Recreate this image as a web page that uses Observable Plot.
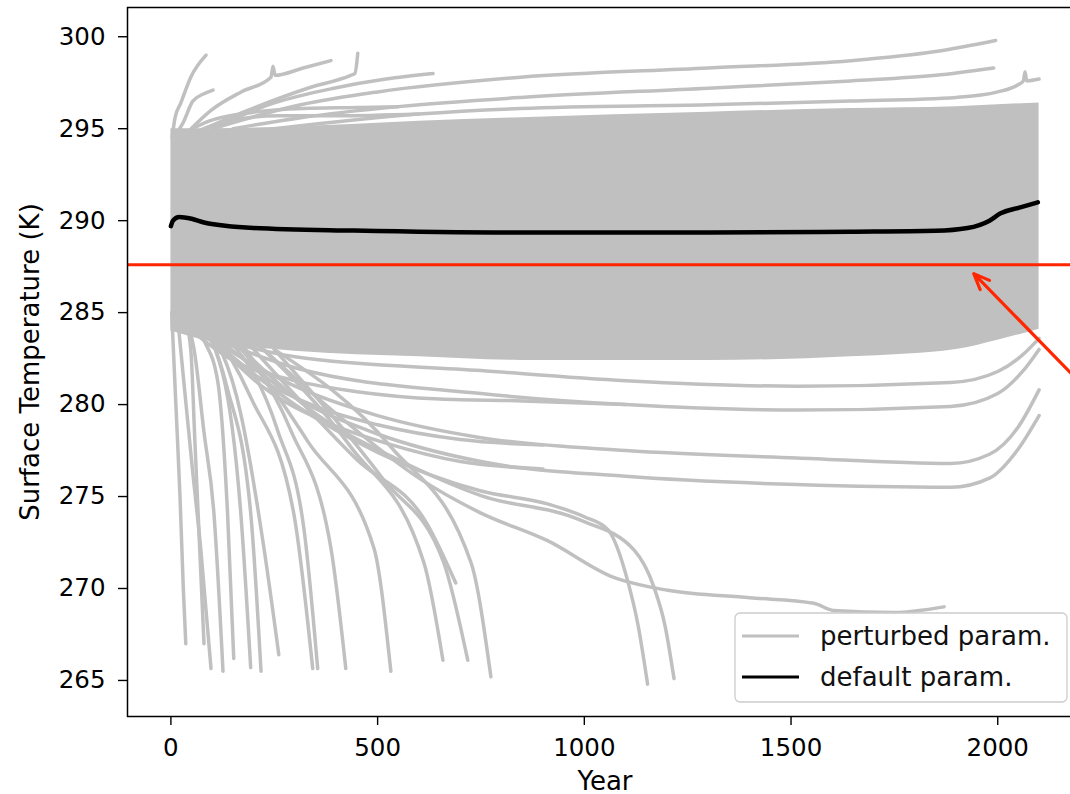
<!DOCTYPE html>
<html><head><meta charset="utf-8">
<script src="https://cdn.jsdelivr.net/npm/d3@7"></script>
<script src="https://cdn.jsdelivr.net/npm/@observablehq/plot@0.6"></script>
<style>
html,body{margin:0;padding:0;overflow:hidden;background:#fff;}
#wrap{position:relative;width:1102px;height:794px;}
#legend{position:absolute;left:734px;top:612px;font-family:'DejaVu Sans',sans-serif;}
</style></head><body><div id="wrap"></div>
<script>
// ---- ticks ----
const xTicks = [0, 500, 1000, 1500, 2000];
const yTicks = [265, 270, 275, 280, 285, 290, 295, 300];

// ---- dense core of perturbed runs (envelope) ----
const bandYear = [0, 100, 300, 600, 846, 1300, 1644, 1900, 2000, 2100];
const bandHigh = [295.0, 295.0, 295.1, 295.4, 295.6, 295.9, 296.1, 296.2, 296.3, 296.4];
const bandLow  = [284.0, 283.4, 282.9, 282.6, 282.4, 282.4, 282.6, 283.0, 283.5, 284.1];

// ---- individual perturbed runs: [year, K] ----
const runA = [[3,294.5],[10,295.6],[24,296.4],[48,297.8],[85,299.0]];
const runB = [[15,294.8],[29,295.3],[53,296.5],[80,296.9],[102,297.1]];
const runC = [[40,294.8],[97,296.0],[170,297.0],[242,297.8],[247,298.4],[252,297.9],[320,298.3],[387,298.7]];
const runD = [[60,294.8],[186,296.0],[331,297.2],[435,297.9],[445,298.0],[452,299.1]];
const runE = [[100,295.0],[250,296.4],[394,297.2],[520,297.7],[634,298.0]];
const runF = [[100,295.0],[314,296.3],[500,297.0],[846,297.8],[1300,298.3],[1644,298.7],[1850,299.2],[1995,299.8]];
const runG = [[150,295.0],[314,295.6],[550,296.2],[846,296.7],[1300,297.2],[1644,297.6],[1850,297.9],[1990,298.3]];
const runH = [[250,295.0],[600,295.8],[846,296.1],[1300,296.3],[1644,296.5],[1900,296.7],[2000,297.0],[2050,297.4],[2062,297.6],[2066,298.1],[2070,297.6],[2100,297.7]];
const runT1 = [[20,294.6],[90,295.4],[200,295.9],[320,296.1],[450,296.15],[550,296.2]];
const runT2 = [[30,294.4],[80,295.0],[160,295.5],[260,295.7],[400,295.7],[600,295.8]];

const runL1 = [[50,284.0],[300,282.6],[750,281.85],[1100,281.3],[1514,281.0],[1886,281.2],[2000,281.8],[2060,282.7],[2100,283.6]];
const runL2 = [[80,283.8],[300,282.0],[750,280.6],[1100,280.0],[1514,279.7],[1886,279.9],[2000,280.6],[2060,281.8],[2100,283.0]];
const runL3 = [[100,283.5],[300,281.0],[500,279.4],[750,278.2],[1100,277.5],[1514,277.1],[1886,276.8],[1980,277.3],[2050,278.8],[2100,280.8]];
const runL4 = [[120,283.5],[300,280.4],[500,278.4],[750,276.9],[1100,276.1],[1514,275.65],[1886,275.5],[1980,276.0],[2050,277.6],[2100,279.4]];
const runN1 = [[40,284.2],[150,282.4],[300,281.3],[450,280.7],[650,280.3],[850,280.2],[1100,280.0]];
const runN2 = [[70,284.0],[200,281.6],[350,279.9],[500,278.9],[700,278.1],[900,277.8]];
const runN3 = [[90,283.8],[220,281.0],[380,279.0],[520,277.9],[700,276.9],[900,276.5]];

const runM1 = [[100,283.5],[300,280.0],[500,277.4],[750,275.3],[911,274.6],[1000,273.9],[1057,273.2],[1105,270.4],[1130,268.0],[1153,264.8]];
const runM2 = [[150,283.5],[350,279.5],[550,277.0],[750,275.05],[992,273.7],[1120,272.1],[1168,270.1],[1195,268.0],[1217,265.1]];
const runM3 = [[200,283.5],[400,279.5],[600,276.0],[750,274.1],[911,272.6],[1071,270.6],[1202,269.9],[1400,269.5],[1555,269.2],[1603,268.8],[1750,268.7],[1870,269.0]];

const runF1  = [[2,285],[12,280],[22,275],[30,270],[36,267.0]];
const runF2  = [[30,285],[48,283],[58,278],[68,273],[80,267.0]];
const runF3  = [[15,285],[31,281.3],[52,276.5],[72,272.2],[97,265.65]];
const runF4  = [[25,285],[56,283],[80,278.5],[104,274.1],[126,265.5]];
const runF5  = [[40,285],[80,283.5],[113,281.3],[137,274.1],[152,266.2]];
const runF6  = [[50,285],[125,281.7],[169,274.1],[193,265.7]];
const runF7  = [[60,285],[135,281],[193,274.1],[218,265.5]];
const runF8  = [[80,284.5],[169,279.5],[225,272.2],[261,266.4]];
const runF9  = [[90,284.5],[193,280.4],[297,274.1],[343,265.65]];
const runF10 = [[120,284],[258,278.6],[322,273.2],[355,265.65]];
const runF11 = [[130,284],[290,278.6],[387,272.2],[423,265.65]];
const runF12 = [[150,284],[331,278.0],[491,272.2],[532,265.5]];
const runF13 = [[200,283.5],[435,277.7],[612,271.4],[658,266.1]];
const runF14 = [[250,283],[515,275.9],[660,271.4],[718,266.1]];
const runF15 = [[250,283],[532,277.7],[726,271.4],[774,265.2]];
const runF16 = [[200,283],[450,277],[620,273.5],[689,270.3]];

const perturbedRuns = [runA, runB, runC, runD, runE, runF, runG, runH, runT1, runT2,
  runL1, runL2, runL3, runL4, runN1, runN2, runN3, runM1, runM2, runM3,
  runF1, runF2, runF3, runF4, runF5, runF6, runF7, runF8, runF9, runF10,
  runF11, runF12, runF13, runF14, runF15, runF16];

// ---- default-parameter run ----
const defaultYear = [0, 5, 20, 50, 80, 200, 443, 846, 1300, 1644, 1850, 1927, 1980, 2007, 2050, 2097];
const defaultTemp = [289.7, 290.0, 290.2, 290.1, 289.9, 289.6, 289.46, 289.35, 289.35, 289.4, 289.45, 289.6, 290.0, 290.4, 290.7, 291.0];

// ---- reference line & annotation arrow ----
const observedTemp = 287.6;
const arrowTail = [2249, 280.05];
const arrowHead = [1942, 287.12];

const legendLabels = ["perturbed param.", "default param."];
const axisLabels = {x: "Year", y: "Surface Temperature (K)"};

// ---- build tables ----
const bandRows = bandYear.map((yr, i) => ({year: yr, lo: bandLow[i], hi: bandHigh[i]}));
const runRows = perturbedRuns.flatMap((run, i) => run.map(([year, temp]) => ({run: i, year, temp})));
const defaultRows = defaultYear.map((yr, i) => ({year: yr, temp: defaultTemp[i]}));
const arrowRows = [{x1: arrowTail[0], y1: arrowTail[1], x2: arrowHead[0], y2: arrowHead[1]}];

const red = "#ff2600";
const chart = Plot.plot({
  width: 1102, height: 794,
  marginLeft: 127, marginRight: 20, marginTop: 7, marginBottom: 78,
  x: {domain: [-105, 2205]},
  y: {domain: [263.04, 301.59]},
  style: {fontFamily: "'DejaVu Sans', sans-serif", fontSize: "24.5px", color: "black", background: "white", overflow: "visible"},
  marks: [
    Plot.areaY(bandRows, {x: "year", y1: "lo", y2: "hi", fill: "silver", curve: "monotone-x"}),
    Plot.line(runRows, {x: "year", y: "temp", z: "run", stroke: "silver", strokeWidth: 3.5, curve: "monotone-x"}),
    Plot.line(defaultRows, {x: "year", y: "temp", stroke: "black", strokeWidth: 4.5, curve: "monotone-x"}),
    Plot.ruleY([observedTemp], {stroke: red, strokeWidth: 3}),
    Plot.arrow(arrowRows, {x1: "x1", y1: "y1", x2: "x2", y2: "y2", stroke: red, strokeWidth: 3.2, headLength: 8, headAngle: 45}),
    Plot.frame({stroke: "black", strokeWidth: 1.5}),
    Plot.axisX(xTicks, {tickSize: 9, tickPadding: 13, tickFormat: "d", label: null, strokeWidth: 1.4}),
    Plot.axisY(yTicks, {tickSize: 9, tickPadding: 13, tickFormat: "d", label: null, strokeWidth: 1.4}),
    Plot.text([axisLabels.x], {text: d => d, frameAnchor: "bottom", dy: 73, fontSize: 26, fill: "black"}),
    Plot.text([axisLabels.y], {text: d => d, frameAnchor: "left", textAnchor: "middle", dx: -97, rotate: -90, fontSize: 26, fill: "black"})
  ]
});
const wrap = document.getElementById("wrap");
wrap.appendChild(chart);

// ---- legend ----
const ns = "http://www.w3.org/2000/svg";
const leg = document.createElementNS(ns, "svg");
leg.setAttribute("id", "legend");
leg.setAttribute("width", "336");
leg.setAttribute("height", "92");
const rect = document.createElementNS(ns, "rect");
Object.entries({x: 1, y: 1, width: 332, height: 89, rx: 5, fill: "white", "fill-opacity": 0.8, stroke: "#cccccc", "stroke-width": 1.3})
  .forEach(([k, v]) => rect.setAttribute(k, v));
leg.appendChild(rect);
const swatches = ["silver", "black"];
legendLabels.forEach((lab, i) => {
  const ly = 24 + i * 41;
  const ln = document.createElementNS(ns, "line");
  Object.entries({x1: 8, x2: 65, y1: ly, y2: ly, stroke: swatches[i], "stroke-width": 3.2})
    .forEach(([k, v]) => ln.setAttribute(k, v));
  leg.appendChild(ln);
  const tx = document.createElementNS(ns, "text");
  Object.entries({x: 86, y: ly + 9, "font-size": 26, fill: "#111"})
    .forEach(([k, v]) => tx.setAttribute(k, v));
  tx.textContent = lab;
  leg.appendChild(tx);
});
wrap.appendChild(leg);
</script></body></html>
